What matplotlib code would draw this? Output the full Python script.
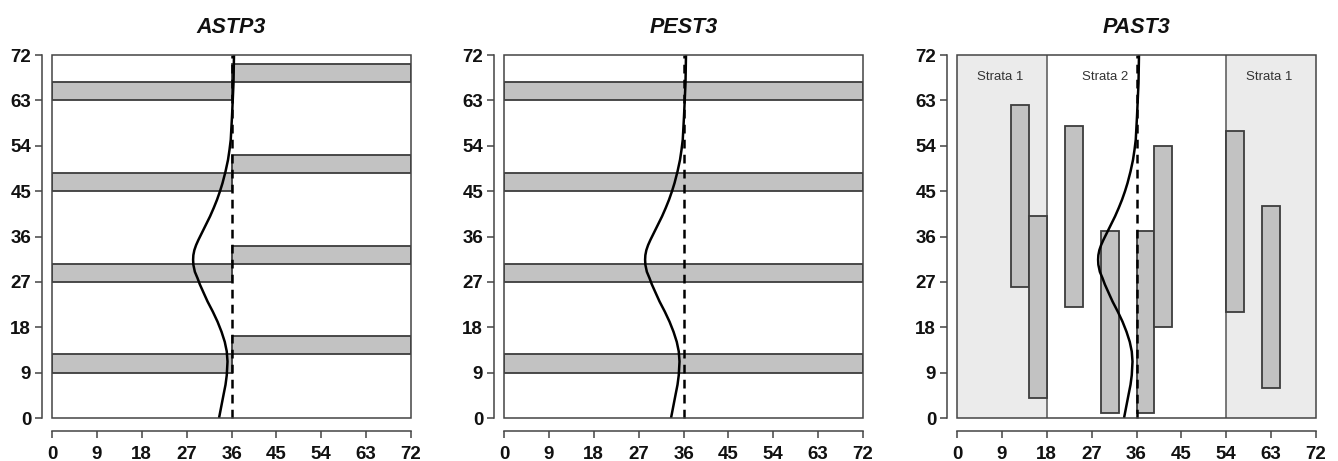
import numpy as np
import matplotlib
matplotlib.use("Agg")
import matplotlib.pyplot as plt
from matplotlib.patches import Rectangle

plt.rcParams["font.family"] = ["Liberation Sans", "DejaVu Sans"]

# ---- data ----
titles = ["ASTP3", "PEST3", "PAST3"]
ticks = [0, 9, 18, 27, 36, 45, 54, 63, 72]

# density curve (x as function of depth y), same in all panels
curve_y = [0, 2.3, 4.6, 6.6, 8.5, 11.2, 13.2, 15.1, 17.1, 19.1, 21.1, 23.1,
           24.3, 25.4, 26.5, 27.7, 29.0, 30.4, 31.4, 32.3, 33.3, 34.3, 35.3,
           36.3, 37.3, 38.2, 40.0, 41.7, 43.3, 45.0, 46.6, 48.9, 51.2, 53.2,
           55.2, 59.8, 66.4, 72]
curve_x = [33.5, 33.95, 34.4, 34.8, 35.05, 35.2, 35.05, 34.65, 34.0, 33.2,
           32.25, 31.2, 30.65, 30.15, 29.65, 29.2, 28.65, 28.35, 28.3, 28.35,
           28.55, 28.9, 29.35, 29.85, 30.35, 30.8, 31.7, 32.45, 33.1, 33.7,
           34.2, 34.8, 35.3, 35.6, 35.85, 36.1, 36.4, 36.5]

# ASTP3: horizontal bars (x0, x1, y0)
astp_x0 = [0, 0, 0, 0, 36, 36, 36, 36]
astp_x1 = [36, 36, 36, 36, 72, 72, 72, 72]
astp_y0 = [9, 27, 45, 63, 12.6, 30.6, 48.6, 66.6]
astp_h = 3.6

# PEST3: full width bars
pest_y0 = [9, 27, 45, 63]
pest_h = 3.6

# PAST3: vertical bars (x0, y0), width 3.6, height 36
past_x0 = [10.8, 14.4, 21.6, 28.8, 36.0, 39.6, 54.0, 61.2]
past_y0 = [26, 4, 22, 1, 1, 18, 21, 6]
past_w, past_h = 3.6, 36

strata_edges = [0, 18, 54, 72]
strata_labels = ["Strata 1", "Strata 2", "Strata 1"]
strata_label_x = [8.7, 29.7, 62.7]

BAR_FC = "#c2c2c2"
EDGE = "#3c3c3c"

fig = plt.figure(figsize=(13.38, 4.61), dpi=100)
lefts = [52 / 1338, 504 / 1338, 957 / 1338]
axes = [fig.add_axes([l, 1 - 418 / 461, 359 / 1338, 363 / 461]) for l in lefts]


def style_axes(ax, title):
    ax.set_xlim(0, 72)
    ax.set_ylim(0, 72)
    for s in ("top", "right"):
        ax.spines[s].set_visible(False)
    ax.spines["left"].set_position(("outward", 7))
    ax.spines["bottom"].set_position(("outward", 9))
    for s in ("left", "bottom"):
        ax.spines[s].set_bounds(0, 72)
        ax.spines[s].set_color("#444444")
        ax.spines[s].set_linewidth(1.1)
    ax.set_xticks(ticks)
    ax.set_yticks(ticks)
    ax.tick_params(direction="out", length=5, width=1.1, color="#444444",
                   labelsize=13.5, labelcolor="#111111")
    ax.tick_params(axis="x", pad=6.5)
    ax.tick_params(axis="y", pad=3)
    for lab in ax.get_xticklabels() + ax.get_yticklabels():
        lab.set_fontweight("bold")
    ax.add_patch(Rectangle((0, 0), 72, 72, fill=False, ec="#444444", lw=1.1,
                           clip_on=False, zorder=6))
    ax.text(36, 1.076, title, transform=ax.get_xaxis_transform(),
            ha="center", va="center", fontsize=15.5, fontweight="bold",
            fontstyle="italic", color="#111111")


def draw_common(ax):
    ax.plot([36, 36], [0, 72], color="black", lw=1.8, ls=(0, (3.5, 2.5)),
            zorder=4, clip_on=False)
    ax.plot(curve_x, curve_y, color="black", lw=1.8, zorder=5,
            solid_capstyle="butt", solid_joinstyle="round")


# ASTP3
ax = axes[0]
for x0, x1, y0 in zip(astp_x0, astp_x1, astp_y0):
    ax.add_patch(Rectangle((x0, y0), x1 - x0, astp_h, fc=BAR_FC, ec=EDGE,
                           lw=1.3, zorder=3))
draw_common(ax)
style_axes(ax, titles[0])

# PEST3
ax = axes[1]
for y0 in pest_y0:
    ax.add_patch(Rectangle((0, y0), 72, pest_h, fc=BAR_FC, ec=EDGE,
                           lw=1.3, zorder=3))
draw_common(ax)
style_axes(ax, titles[1])

# PAST3
ax = axes[2]
for i in range(len(strata_labels)):
    a, b = strata_edges[i], strata_edges[i + 1]
    if strata_labels[i] == "Strata 1":
        ax.axvspan(a, b, color="#ebebeb", zorder=1, lw=0)
    ax.text(strata_label_x[i], 67.7, strata_labels[i], ha="center",
            va="center", fontsize=9.5, color="#333333", zorder=6)
for xv in (18, 54):
    ax.axvline(xv, color="#555555", lw=1.1, zorder=2)
for x0, y0 in zip(past_x0, past_y0):
    ax.add_patch(Rectangle((x0, y0), past_w, past_h, fc=BAR_FC, ec=EDGE,
                           lw=1.3, zorder=3))
draw_common(ax)
style_axes(ax, titles[2])

fig.savefig("out.png", dpi=100)
